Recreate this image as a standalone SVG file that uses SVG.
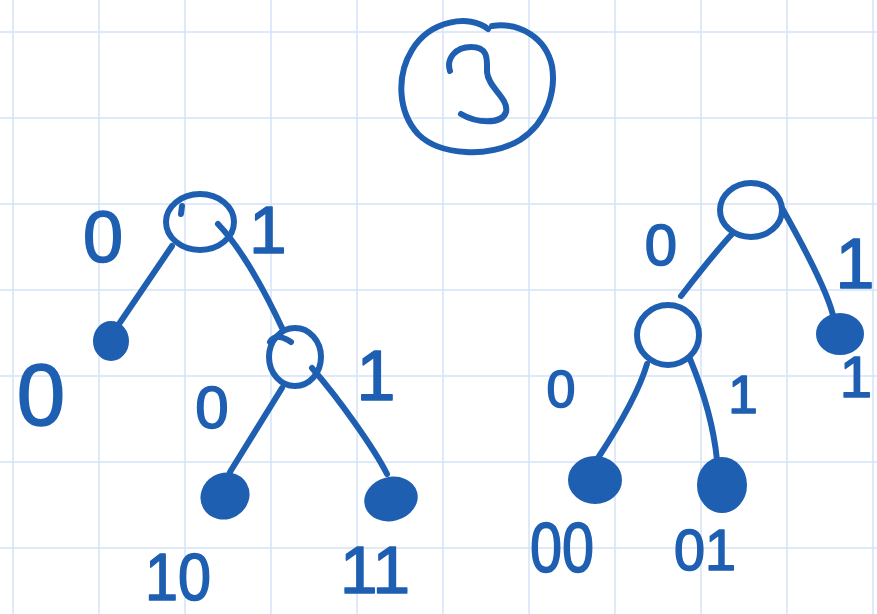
<svg xmlns="http://www.w3.org/2000/svg" width="877" height="614" viewBox="0 0 877 614">
<style>
.grid{stroke:#d4e4f7;stroke-width:1.5;fill:none}
.ink{stroke:#1e5fb2;stroke-width:6;fill:none;stroke-linecap:round;stroke-linejoin:round}
.leaf{fill:#1e5fb2;stroke:#1e5fb2;stroke-width:4}
.lbl{font-family:"Liberation Sans",Arial,sans-serif;fill:#1e5fb2;stroke:#1e5fb2;stroke-width:1.6;stroke-linejoin:round;text-anchor:middle}
</style>
<rect width="877" height="614" fill="#ffffff"/>
<g id="grid" class="grid">
<path d="M13,0V614M99,0V614M185,0V614M271,0V614M357,0V614M443,0V614M529,0V614M615,0V614M701,0V614M787,0V614M873,0V614"/>
<path d="M0,32H877M0,118H877M0,204H877M0,290H877M0,376H877M0,462H877M0,548H877"/>
</g>
<g id="title">
<path class="ink" d="M488,29 C470,14 430,20 412,50 C396,76 398,112 418,134 C440,156 490,158 520,140 C548,122 556,90 552,66 C546,38 520,22 492,26"/>
<path class="ink" d="M450,71 C446,58 456,47 471,47 C489,47 487,60 487,72 C488,88 509,98 506,112 C502,125 476,123 461,114"/>
</g>
<g id="connectors">
<path class="ink" d="M172,246 L119,324"/>
<path class="ink" d="M218,224 C238,245 262,285 283,330"/>
<path class="ink" d="M282,388 L230,472"/>
<path class="ink" d="M312,368 C340,400 375,450 387,474"/>
<path class="ink" d="M733,233 C715,252 695,278 681,296"/>
<path class="ink" d="M782,208 C800,240 830,295 834,320"/>
<path class="ink" d="M647,364 C638,395 615,432 598,458"/>
<path class="ink" d="M690,359 C705,395 714,430 717,460"/>
</g>
<g id="n-root-left">
<ellipse class="ink" cx="200" cy="222" rx="34" ry="28"/>
<path class="ink" d="M182,206 L181,214"/>
</g>
<g id="n-leaf-0">
<ellipse class="leaf" cx="111" cy="341" rx="16" ry="18"/>
</g>
<g id="n-node-1">
<ellipse class="ink" cx="295" cy="357" rx="26" ry="29"/>
<path class="ink" d="M270,342 C275,333 285,338 291,342"/>
</g>
<g id="n-leaf-10">
<ellipse class="leaf" cx="225" cy="496" rx="23" ry="21" transform="rotate(-30 225 496)"/>
</g>
<g id="n-leaf-11">
<ellipse class="leaf" cx="391" cy="499" rx="25" ry="20" transform="rotate(-15 391 499)"/>
</g>
<g id="n-root-right">
<ellipse class="ink" cx="751" cy="210" rx="31" ry="27"/>
</g>
<g id="n-node-0">
<ellipse class="ink" cx="668" cy="335" rx="31" ry="30"/>
</g>
<g id="n-leaf-r1">
<ellipse class="leaf" cx="840" cy="334" rx="22" ry="19"/>
</g>
<g id="n-leaf-00">
<ellipse class="leaf" cx="595" cy="480" rx="25" ry="22"/>
</g>
<g id="n-leaf-01">
<ellipse class="leaf" cx="722" cy="485" rx="23" ry="26"/>
</g>
<g id="labels">
<text class="lbl" x="103" y="262" font-size="72">0</text>
<text class="lbl" x="268" y="253" font-size="67">1</text>
<text class="lbl" x="41" y="425" font-size="87">0</text>
<text class="lbl" x="376" y="400" font-size="70">1</text>
<text class="lbl" x="212" y="428" font-size="60">0</text>
<text class="lbl" x="178" y="600" font-size="66" textLength="66" lengthAdjust="spacingAndGlyphs">10</text>
<text class="lbl" x="375" y="593" font-size="67" textLength="70" lengthAdjust="spacingAndGlyphs">11</text>
<text class="lbl" x="661" y="265" font-size="58">0</text>
<text class="lbl" x="855" y="288" font-size="70">1</text>
<text class="lbl" x="856" y="397" font-size="58">1</text>
<text class="lbl" x="561" y="407" font-size="52">0</text>
<text class="lbl" x="743" y="413" font-size="53">1</text>
<text class="lbl" x="562" y="572" font-size="70" textLength="64" lengthAdjust="spacingAndGlyphs">00</text>
<text class="lbl" x="705" y="570" font-size="58" textLength="62" lengthAdjust="spacingAndGlyphs">01</text>
</g>
</svg>
